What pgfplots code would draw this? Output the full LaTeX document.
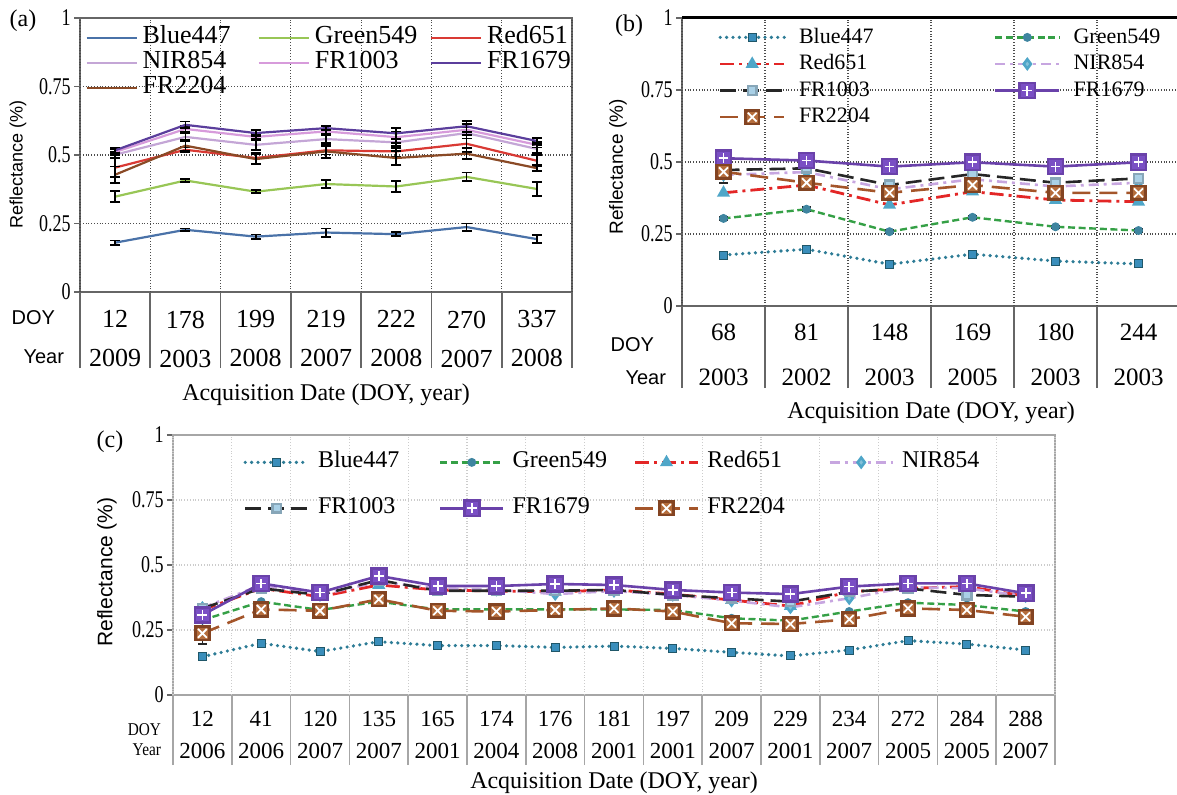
\documentclass[border=0pt]{standalone}
\usepackage{fontspec}
\setmainfont{Liberation Serif}
\newfontfamily\arial{Liberation Sans}
\usepackage{graphicx}
\usepackage{pgfplots}
\pgfplotsset{compat=1.18}

% panel (a) colours
\definecolor{ablue}{HTML}{4A72A8}
\definecolor{agreen}{HTML}{98C656}
\definecolor{ared}{HTML}{D93A34}
\definecolor{anir}{HTML}{C4A6D6}
\definecolor{afrA}{HTML}{D79BDB}
\definecolor{afrB}{HTML}{5B3E9C}
\definecolor{afrC}{HTML}{8A4A26}
% panels (b),(c) colours
\definecolor{bblue}{HTML}{2D7C96}
\definecolor{bbluemk}{HTML}{3A8EBB}
\definecolor{bgreen}{HTML}{35A046}
\definecolor{bred}{HTML}{E32626}
\definecolor{bnir}{HTML}{C7A6E0}
\definecolor{mkcyan}{HTML}{4FA6C8}
\definecolor{mklight}{HTML}{A9D0E6}
\definecolor{bfrB}{HTML}{6A42AA}
\definecolor{bfrBmk}{HTML}{7A4FC4}
\definecolor{bfrC}{HTML}{A4552A}
\definecolor{bfrCmk}{HTML}{B56D3C}

% square with white plus / white cross
\pgfdeclareplotmark{sqplus}{%
  \pgfpathrectangle{\pgfpoint{-\pgfplotmarksize}{-\pgfplotmarksize}}{\pgfpoint{2\pgfplotmarksize}{2\pgfplotmarksize}}%
  \pgfusepathqfillstroke
  \pgfscope
  \pgfsetstrokecolor{white}\pgfsetlinewidth{0.9pt}%
  \pgfpathmoveto{\pgfpoint{-0.65\pgfplotmarksize}{0pt}}\pgfpathlineto{\pgfpoint{0.65\pgfplotmarksize}{0pt}}%
  \pgfpathmoveto{\pgfpoint{0pt}{-0.65\pgfplotmarksize}}\pgfpathlineto{\pgfpoint{0pt}{0.65\pgfplotmarksize}}%
  \pgfusepathqstroke
  \endpgfscope
}
\pgfdeclareplotmark{sqx}{%
  \pgfpathrectangle{\pgfpoint{-\pgfplotmarksize}{-\pgfplotmarksize}}{\pgfpoint{2\pgfplotmarksize}{2\pgfplotmarksize}}%
  \pgfusepathqfillstroke
  \pgfscope
  \pgfsetstrokecolor{white}\pgfsetlinewidth{0.9pt}%
  \pgfpathmoveto{\pgfpoint{-0.65\pgfplotmarksize}{-0.65\pgfplotmarksize}}\pgfpathlineto{\pgfpoint{0.65\pgfplotmarksize}{0.65\pgfplotmarksize}}%
  \pgfpathmoveto{\pgfpoint{-0.65\pgfplotmarksize}{0.65\pgfplotmarksize}}\pgfpathlineto{\pgfpoint{0.65\pgfplotmarksize}{-0.65\pgfplotmarksize}}%
  \pgfusepathqstroke
  \endpgfscope
}

\pgfplotsset{
  panel/.style={
    anchor=south west, scale only axis, ymin=0, ymax=1,
    ytick={0,0.25,0.5,0.75,1},
    yticklabel={\scalebox{0.75}[1]{\pgfmathprintnumber[assume math mode=true]{\tick}}},
    yticklabel style={font=\fontsize{12}{14}\selectfont, inner xsep=1.5pt},
    tick align=outside, tick pos=left, major tick length=3pt,
    xtick style={draw=none}, ytick style={gray!80!black, line width=0.8pt},
    ymajorgrids,
    xticklabel style={align=center, anchor=center},
    extra x tick labels={},
    ylabel={\arial Reflectance (\%)},
    xlabel={Acquisition Date (DOY, year)},
    xlabel style={at={(axis description cs:0.5,0)}, anchor=center, font=\fontsize{12}{14}\selectfont},
    ylabel style={anchor=center},
    legend cell align=left,
    axis line style={gray!80!black, line width=1pt},
  },
  eb/.style={error bars/.cd, y dir=both, y explicit,
    error bar style={black!85, line width=0.8pt, solid},
    error mark options={rotate=90, black!85, mark size=2.2pt, line width=0.8pt, solid}},
  bl/.style={bblue, line width=1.8pt, line cap=round, dash pattern=on 0pt off 3.2pt,
    mark=square*, mark size=2pt, mark options={solid, fill=bbluemk, draw=bblue!70!black, line width=0.5pt}},
  gr/.style={bgreen, line width=1.2pt, dash pattern=on 3.5pt off 1.8pt,
    mark=*, mark size=1.6pt, mark options={solid, fill=mkcyan!80!black, draw=mkcyan!80!black}},
  rd/.style={bred, line width=1.4pt, dash pattern=on 7pt off 2.5pt on 1.5pt off 2.5pt,
    mark=triangle*, mark size=2.4pt, mark options={solid, fill=mkcyan, draw=mkcyan}},
  nr/.style={bnir, line width=1.3pt, dash pattern=on 5pt off 2.5pt on 1.5pt off 2.5pt,
    mark=diamond*, mark size=2.4pt, mark options={solid, fill=mkcyan!70!white, draw=mkcyan}},
  fa/.style={black!85, line width=1.3pt, dash pattern=on 8pt off 3.5pt,
    mark=square*, mark size=2.2pt, mark options={solid, fill=mklight, draw=mklight!80!black}},
  fb/.style={bfrB, line width=1.3pt, mark=sqplus, mark size=3.8pt,
    mark options={solid, fill=bfrBmk, draw=bfrB}},
  fc/.style={bfrC, line width=1.3pt, dash pattern=on 9pt off 4.5pt, mark=sqx, mark size=3.4pt,
    mark options={solid, fill=bfrCmk, draw=bfrC!80!black}},
}

\begin{document}
\begin{tikzpicture}
\useasboundingbox (0,0) rectangle (588.5pt,397.5pt);

% ---------------- (a)
\begin{axis}[panel, name=A, at={(40pt,251.5pt)}, width=246pt, height=137pt,
  xmin=-0.5, xmax=6.5, xtick={0,...,6},
  xticklabels={{12\\2009},{178\\2003},{199\\2008},{219\\2007},{222\\2008},{270\\2007},{337\\2008}},
  xticklabel style={font=\fontsize{13}{19.5}\selectfont, yshift=-20.5pt},
  extra x ticks={-0.5,0.5,...,6.5},
  extra x tick style={major tick length=38pt, xtick style={draw=gray!80!black, line width=0.8pt}, grid=major},
  major grid style={densely dotted, gray!60!black, line width=0.6pt},
  xlabel style={yshift=-51.5pt},
  ylabel style={at={(axis description cs:-0.126,0.467)}, font=\fontsize{9}{11}\selectfont},
  legend columns=3,
  legend style={draw=none, fill=none, at={(0,1)}, anchor=north west, xshift=2.5pt, yshift=-3.75pt,
    inner xsep=0pt, inner ysep=0pt, column sep=0pt, row sep=0pt,
    font=\fontsize{13}{15}\selectfont, nodes={inner sep=0pt, text height=9pt, text depth=3.5pt}},
  legend image code/.code={\draw[#1] (0pt,0pt) -- (25pt,0pt); \path (27.5pt,0pt);},
  error bars/y dir=both, error bars/y explicit,
  error bars/error bar style={black, line width=0.9pt, solid},
  error bars/error mark options={rotate=90, black, mark size=2.5pt, line width=0.9pt, solid},
]
\addplot[ablue, line width=1.1pt] coordinates {(0,0.180) +- (0,0.008) (1,0.227) +- (0,0.005) (2,0.202) +- (0,0.008) (3,0.217) +- (0,0.015) (4,0.211) +- (0,0.008) (5,0.237) +- (0,0.013) (6,0.193) +- (0,0.015)};
\addlegendentry{\makebox[57.5pt][l]{Blue447}}
\addplot[agreen, line width=1.1pt] coordinates {(0,0.348) +- (0,0.02) (1,0.407) +- (0,0.005) (2,0.366) +- (0,0.005) (3,0.394) +- (0,0.015) (4,0.385) +- (0,0.02) (5,0.420) +- (0,0.016) (6,0.376) +- (0,0.025)};
\addlegendentry{\makebox[57.5pt][l]{Green549}}
\addplot[ared, line width=1.1pt] coordinates {(0,0.454) +- (0,0.035) (1,0.519) +- (0,0.01) (2,0.489) +- (0,0.02) (3,0.517) +- (0,0.015) (4,0.513) +- (0,0.02) (5,0.541) +- (0,0.03) (6,0.479) +- (0,0.02)};
\addlegendentry{\makebox[57.5pt][l]{Red651}}
\addplot[anir, line width=1.1pt] coordinates {(0,0.501) +- (0,0.01) (1,0.566) +- (0,0.015) (2,0.537) +- (0,0.02) (3,0.558) +- (0,0.015) (4,0.546) +- (0,0.02) (5,0.580) +- (0,0.02) (6,0.522) +- (0,0.015)};
\addlegendentry{\makebox[57.5pt][l]{NIR854}}
\addplot[afrA, line width=1.1pt] coordinates {(0,0.511) +- (0,0.01) (1,0.595) +- (0,0.01) (2,0.566) +- (0,0.01) (3,0.586) +- (0,0.01) (4,0.565) +- (0,0.02) (5,0.592) +- (0,0.02) (6,0.537) +- (0,0.01)};
\addlegendentry{\makebox[57.5pt][l]{FR1003}}
\addplot[afrB, line width=1.1pt] coordinates {(0,0.517) +- (0,0.01) (1,0.610) +- (0,0.012) (2,0.580) +- (0,0.01) (3,0.598) +- (0,0.008) (4,0.579) +- (0,0.02) (5,0.605) +- (0,0.02) (6,0.551) +- (0,0.012)};
\addlegendentry{\makebox[57.5pt][l]{FR1679}}
\addplot[afrC, line width=1.1pt] coordinates {(0,0.428) +- (0,0.03) (1,0.534) +- (0,0.02) (2,0.485) +- (0,0.02) (3,0.513) +- (0,0.025) (4,0.489) +- (0,0.025) (5,0.505) +- (0,0.02) (6,0.452) +- (0,0.01)};
\addlegendentry{\makebox[57.5pt][l]{FR2204}}
\end{axis}
\node[anchor=east, font=\arial\fontsize{10}{12}\selectfont] at ([xshift=-9pt,yshift=-13pt]A.south west) {DOY};
\node[anchor=east, font=\arial\fontsize{10}{12}\selectfont] at ([xshift=-4.5pt,yshift=-32.5pt]A.south west) {Year};
\node[font=\fontsize{12}{14}\selectfont] at (11.5pt,387pt) {(a)};

% ---------------- (b)
\begin{axis}[panel, name=B, at={(341pt,244.5pt)}, width=249pt, height=144pt,
  xmin=-0.5, xmax=5.5, xtick={0,...,5},
  xticklabels={{68\\2003},{81\\2002},{148\\2003},{169\\2005},{180\\2003},{244\\2003}},
  xticklabel style={font=\fontsize{12.5}{22.5}\selectfont, yshift=-21.25pt},
  extra x ticks={-0.5,0.5,...,5.5},
  extra x tick style={major tick length=41pt, xtick style={draw=gray!80!black, line width=0.8pt}, grid=major},
  major grid style={densely dotted, gray!60!black, line width=0.6pt},
  xlabel style={yshift=-53.5pt},
  ylabel style={at={(axis description cs:-0.1285,0.483)}, font=\fontsize{9.5}{11}\selectfont},
  legend columns=2,
  legend style={draw=none, fill=none, at={(0,1)}, anchor=north west, xshift=18pt, yshift=-2.85pt,
    inner xsep=0pt, inner ysep=0pt, column sep=0pt, row sep=0pt,
    font=\fontsize{11}{13}\selectfont, nodes={inner sep=0pt, text height=9.5pt, text depth=3.8pt}},
  legend image code/.code={\draw[mark repeat=2, mark phase=2, #1] plot coordinates {(0pt,0pt) (16pt,0pt) (32pt,0pt)}; \path (38.5pt,0pt);},
]
\addplot[bl, eb] coordinates {(0,0.177) +- (0,0.008) (1,0.197) +- (0,0.008) (2,0.145) +- (0,0.01) (3,0.180) +- (0,0.006) (4,0.156) +- (0,0.01) (5,0.146) +- (0,0.01)};
\addlegendentry{\makebox[97.5pt][l]{Blue447}}
\addplot[gr, eb] coordinates {(0,0.304) +- (0,0.006) (1,0.336) +- (0,0.008) (2,0.258) +- (0,0.005) (3,0.308) +- (0,0.005) (4,0.275) +- (0,0.004) (5,0.262) +- (0,0.006)};
\addlegendentry{\makebox[97.5pt][l]{Green549}}
\addplot[rd] coordinates {(0,0.393) (1,0.420) (2,0.351) (3,0.397) (4,0.368) (5,0.362)};
\addlegendentry{\makebox[97.5pt][l]{Red651}}
\addplot[nr] coordinates {(0,0.455) (1,0.465) (2,0.405) (3,0.440) (4,0.415) (5,0.428)};
\addlegendentry{\makebox[97.5pt][l]{NIR854}}
\addplot[fa, eb] coordinates {(0,0.472) +- (0,0.045) (1,0.478) +- (0,0.01) (2,0.420) +- (0,0.008) (3,0.458) +- (0,0.008) (4,0.428) +- (0,0.008) (5,0.443) +- (0,0.008)};
\addlegendentry{\makebox[97.5pt][l]{FR1003}}
\addplot[fb] coordinates {(0,0.513) (1,0.505) (2,0.484) (3,0.499) (4,0.484) (5,0.499)};
\addlegendentry{\makebox[97.5pt][l]{FR1679}}
\addplot[fc] coordinates {(0,0.466) (1,0.428) (2,0.393) (3,0.420) (4,0.393) (5,0.393)};
\addlegendentry{\makebox[97.5pt][l]{FR2204}}
\end{axis}
\draw[black, line width=1.5pt] (B.north west) -- (B.north east);
\node[anchor=east, font=\arial\fontsize{10}{12}\selectfont] at ([xshift=-10.5pt,yshift=-19.5pt]B.south west) {DOY};
\node[anchor=east, font=\arial\fontsize{10}{12}\selectfont] at ([xshift=-4.5pt,yshift=-36pt]B.south west) {Year};
\node[font=\fontsize{12}{14}\selectfont] at (314.5pt,384.5pt) {(b)};

% ---------------- (c)
\begin{axis}[panel, name=C, at={(86.5pt,50pt)}, width=441pt, height=130pt,
  xmin=-0.5, xmax=14.5, xtick={0,...,14},
  xticklabels={{12\\2006},{41\\2006},{120\\2007},{135\\2007},{165\\2001},{174\\2004},{176\\2008},{181\\2001},{197\\2001},{209\\2007},{229\\2001},{234\\2007},{272\\2005},{284\\2005},{288\\2007}},
  xticklabel style={font=\fontsize{11.5}{16}\selectfont, yshift=-17pt},
  extra x ticks={-0.5,0.5,...,14.5},
  extra x tick style={major tick length=35pt, xtick style={draw=gray!70, line width=0.8pt}, grid=major},
  major grid style={densely dotted, gray!40, line width=0.6pt},
  axis line style={gray!70, line width=1pt},
  xlabel style={yshift=-44pt},
  ylabel style={at={(axis description cs:-0.0748,0.473)}, font=\fontsize{10.5}{12}\selectfont},
  legend columns=4,
  legend style={draw=none, fill=none, at={(0,1)}, anchor=north west, xshift=35pt, yshift=-7.25pt,
    inner xsep=0pt, inner ysep=0pt, column sep=0pt, row sep=10.5pt,
    font=\fontsize{12}{14}\selectfont, nodes={inner sep=0pt, text height=9pt, text depth=3.5pt}},
  legend image code/.code={\draw[mark repeat=2, mark phase=2, #1] plot coordinates {(0pt,0pt) (15.75pt,0pt) (31.5pt,0pt)}; \path (35.5pt,0pt);},
]
\addplot[bl, eb] coordinates {(0,0.147) +- (0,0.006) (1,0.199) +- (0,0.006) (2,0.167) +- (0,0.006) (3,0.205) +- (0,0.006) (4,0.190) +- (0,0.006) (5,0.190) +- (0,0.006) (6,0.183) +- (0,0.006) (7,0.188) +- (0,0.006) (8,0.179) +- (0,0.006) (9,0.164) +- (0,0.006) (10,0.150) +- (0,0.006) (11,0.173) +- (0,0.006) (12,0.209) +- (0,0.006) (13,0.196) +- (0,0.006) (14,0.173) +- (0,0.006)};
\addlegendentry{\makebox[60.5pt][l]{Blue447}}
\addplot[gr] coordinates {(0,0.288) (1,0.359) (2,0.327) (3,0.359) (4,0.329) (5,0.329) (6,0.329) (7,0.329) (8,0.327) (9,0.295) (10,0.286) (11,0.321) (12,0.355) (13,0.346) (14,0.321)};
\addlegendentry{\makebox[60.5pt][l]{Green549}}
\addplot[rd] coordinates {(0,0.327) (1,0.410) (2,0.378) (3,0.423) (4,0.404) (5,0.400) (6,0.397) (7,0.404) (8,0.388) (9,0.365) (10,0.342) (11,0.397) (12,0.410) (13,0.417) (14,0.380)};
\addlegendentry{\makebox[60.5pt][l]{Red651}}
\addplot[nr] coordinates {(0,0.335) (1,0.423) (2,0.385) (3,0.435) (4,0.410) (5,0.405) (6,0.388) (7,0.400) (8,0.385) (9,0.363) (10,0.337) (11,0.372) (12,0.415) (13,0.410) (14,0.380)};
\addlegendentry{\makebox[60.5pt][l]{NIR854}}
\addplot[fa, eb] coordinates {(0,0.333) +- (0,0.01) (1,0.410) +- (0,0.02) (2,0.385) +- (0,0.008) (3,0.442) +- (0,0.008) (4,0.401) +- (0,0.008) (5,0.401) +- (0,0.008) (6,0.401) +- (0,0.008) (7,0.404) +- (0,0.008) (8,0.385) +- (0,0.01) (9,0.372) +- (0,0.008) (10,0.359) +- (0,0.008) (11,0.397) +- (0,0.008) (12,0.410) +- (0,0.01) (13,0.385) +- (0,0.012) (14,0.378) +- (0,0.008)};
\addlegendentry{\makebox[60.5pt][l]{FR1003}}
\addplot[fb] coordinates {(0,0.308) (1,0.429) (2,0.394) (3,0.458) (4,0.419) (5,0.419) (6,0.427) (7,0.423) (8,0.404) (9,0.394) (10,0.388) (11,0.417) (12,0.429) (13,0.429) (14,0.391)};
\addlegendentry{\makebox[60.5pt][l]{FR1679}}
\addplot[fc, eb] coordinates {(0,0.237) +- (0,0.04) (1,0.329) +- (0,0.01) (2,0.324) +- (0,0.008) (3,0.368) +- (0,0.008) (4,0.324) +- (0,0.008) (5,0.321) +- (0,0.008) (6,0.327) +- (0,0.008) (7,0.333) +- (0,0.008) (8,0.321) +- (0,0.008) (9,0.276) +- (0,0.008) (10,0.273) +- (0,0.008) (11,0.291) +- (0,0.01) (12,0.333) +- (0,0.01) (13,0.327) +- (0,0.01) (14,0.301) +- (0,0.01)};
\addlegendentry{\makebox[60.5pt][l]{FR2204}}
\end{axis}
\node[anchor=east, font=\fontsize{9}{10}\selectfont] at ([xshift=-2.5pt,yshift=-17.5pt]C.south west) {\scalebox{0.85}[1]{DOY}};
\node[anchor=east, font=\fontsize{9}{10}\selectfont] at ([xshift=-2.5pt,yshift=-27.5pt]C.south west) {\scalebox{0.85}[1]{Year}};
\node[font=\fontsize{12}{14}\selectfont] at (55pt,176.5pt) {(c)};
\end{tikzpicture}
\end{document}
